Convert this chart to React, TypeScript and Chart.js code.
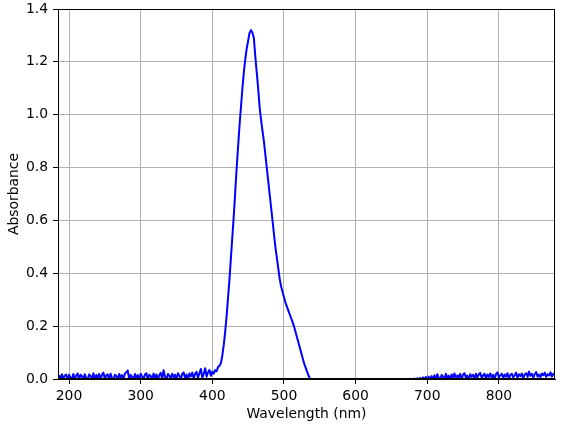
import React, { useEffect, useRef } from "react";
import { Chart, registerables } from "chart.js";

Chart.register(...registerables);

// ---- Data ----
// UV baseline, 186–408 nm every 2 nm
const uvWl = [
  186, 188, 190, 192, 194, 196, 198, 200, 202, 204, 206, 208, 210, 212, 214, 216,
  218, 220, 222, 224, 226, 228, 230, 232, 234, 236, 238, 240, 242, 244, 246, 248,
  250, 252, 254, 256, 258, 260, 262, 264, 266, 268, 270, 272, 274, 276, 278, 280,
  282, 284, 286, 288, 290, 292, 294, 296, 298, 300, 302, 304, 306, 308, 310, 312,
  314, 316, 318, 320, 322, 324, 326, 328, 330, 332, 334, 336, 338, 340, 342, 344,
  346, 348, 350, 352, 354, 356, 358, 360, 362, 364, 366, 368, 370, 372, 374, 376,
  378, 380, 382, 384, 386, 388, 390, 392, 394, 396, 398, 400, 402, 404, 406, 408,
];
const uvAbs = [
  0.015, -0.003, 0.018, 0.002, 0.012, 0.017, -0.004, 0.016, 0.006, -0.002, 0.019, 0.001, 0.013, 0.021, -0.003, 0.016,
  0.011, -0.002, 0.018, 0.004, -0.004, 0.017, 0.012, -0.001, 0.022, -0.003, 0.015, 0.005, 0.019, -0.002, 0.016, 0.024,
  -0.001, 0.014, 0.018, -0.003, 0.02, 0.003, -0.002, 0.016, 0.011, -0.004, 0.019, 0.006, 0.015, -0.001, 0.021, 0.026,
  0.032, -0.002, 0.016, 0.008, -0.003, 0.019, 0.004, 0.015, -0.002, 0.02, 0.01, -0.001, 0.017, 0.022, -0.003, 0.016,
  0.012, -0.002, 0.021, 0.004, 0.017, -0.003, 0.015, 0.023, -0.001, 0.033, 0.008, -0.002, 0.019, 0.013, 0.0, 0.02,
  0.007, 0.016, -0.002, 0.022, 0.012, -0.001, 0.019, 0.025, 0.003, 0.017, -0.002, 0.021, 0.01, 0.024, 0.001, 0.02,
  0.027, 0.005, 0.022, 0.038, 0.004, 0.019, 0.041, 0.009, 0.025, 0.034, 0.012, 0.028, 0.02, 0.034, 0.03, 0.045,
];

// Main absorption band
const peakWl = [
  410, 412, 414, 416, 418, 420, 422, 424, 426, 428, 430, 432, 434, 436, 438, 440, 442, 444, 446, 448,
  450, 452, 454, 456, 458, 460, 462, 464, 466, 468, 470, 472, 474, 476, 478, 480, 482, 484, 486, 488,
  490, 492, 494, 496, 498, 500, 502, 504, 506, 508, 510, 512, 514, 516, 518, 520, 522, 524, 526, 528,
  530, 532, 534, 536, 538,
];
const peakAbs = [
  0.05, 0.06, 0.09, 0.13, 0.18, 0.24, 0.31, 0.38, 0.46, 0.54, 0.62, 0.71, 0.8, 0.88, 0.96, 1.03, 1.1, 1.16, 1.21, 1.25,
  1.28, 1.31, 1.32, 1.31, 1.29, 1.22, 1.16, 1.1, 1.03, 0.98, 0.94, 0.9, 0.85, 0.8, 0.75, 0.7, 0.65, 0.6, 0.55, 0.5,
  0.46, 0.42, 0.38, 0.35, 0.33, 0.31, 0.29, 0.275, 0.26, 0.245, 0.23, 0.215, 0.2, 0.18, 0.16, 0.14, 0.12, 0.1, 0.08, 0.06,
  0.045, 0.03, 0.015, 0.003, -0.01,
];

// Below-zero stretch (hidden under the axis)
const gapWl = [545, 560, 580, 600, 620, 640, 660, 672];
const gapAbs = [-0.02, -0.03, -0.03, -0.035, -0.03, -0.025, -0.02, -0.015];

// Visible/NIR baseline, 678–878 nm every 2 nm
const visWl = [
  678, 680, 682, 684, 686, 688, 690, 692, 694, 696, 698, 700, 702, 704, 706, 708,
  710, 712, 714, 716, 718, 720, 722, 724, 726, 728, 730, 732, 734, 736, 738, 740,
  742, 744, 746, 748, 750, 752, 754, 756, 758, 760, 762, 764, 766, 768, 770, 772,
  774, 776, 778, 780, 782, 784, 786, 788, 790, 792, 794, 796, 798, 800, 802, 804,
  806, 808, 810, 812, 814, 816, 818, 820, 822, 824, 826, 828, 830, 832, 834, 836,
  838, 840, 842, 844, 846, 848, 850, 852, 854, 856, 858, 860, 862, 864, 866, 868,
  870, 872, 874, 876, 878,
];
const visAbs = [
  -0.01, -0.005, 0.002, -0.006, 0.003, -0.004, 0.004, -0.003, 0.006, -0.003, 0.008, -0.004, 0.009, -0.002, 0.011, -0.002,
  0.014, 0.0, 0.018, 0.005, -0.002, 0.015, 0.009, -0.001, 0.02, 0.002, 0.013, -0.002, 0.017, 0.007, 0.021, 0.001,
  0.014, 0.006, 0.019, -0.001, 0.016, 0.022, 0.005, 0.013, -0.001, 0.018, 0.009, 0.016, 0.0, 0.02, 0.006, 0.017,
  0.023, 0.004, 0.014, 0.02, 0.0, 0.017, 0.008, 0.021, 0.005, 0.016, -0.001, 0.019, 0.025, 0.006, 0.014, 0.02,
  0.004, 0.017, 0.009, 0.022, 0.001, 0.016, 0.02, 0.006, 0.014, 0.024, 0.005, 0.018, 0.011, 0.021, 0.003, 0.017,
  0.022, 0.008, 0.028, 0.012, 0.02, 0.005, 0.018, 0.026, 0.009, 0.017, 0.006, 0.021, 0.014, 0.024, 0.008, 0.018,
  0.013, 0.025, 0.009, 0.02, 0.016,
];

const xTicks = [200, 300, 400, 500, 600, 700, 800];
const yTicks = [0, 0.2, 0.4, 0.6, 0.8, 1.0, 1.2, 1.4];
const xMin = 184.6;
const xMax = 878.3;
const yMin = 0;
const yMax = 1.4;

const FONT = { family: "'DejaVu Sans', sans-serif", size: 13.9 };

const framePlugin = {
  id: "frame",
  afterDatasetsDraw(chart: any) {
    const { ctx, chartArea } = chart;
    const { left, right, top, bottom } = chartArea;
    ctx.save();
    ctx.strokeStyle = "#000";
    ctx.lineWidth = 1;
    ctx.strokeRect(Math.round(left) + 0.5, Math.round(top) + 0.5, Math.round(right - left) - 1, Math.round(bottom - top) - 1);
    ctx.restore();
  },
};

export default function App() {
  const ref = useRef<HTMLCanvasElement | null>(null);

  useEffect(() => {
    if (!ref.current) return;
    const wl = [...uvWl, ...peakWl, ...gapWl, ...visWl];
    const ab = [...uvAbs, ...peakAbs, ...gapAbs, ...visAbs];
    const points = wl.map((x, i) => ({ x, y: ab[i] }));

    const chart = new Chart(ref.current, {
      type: "line",
      data: {
        datasets: [
          {
            data: points,
            borderColor: "#0000ff",
            borderWidth: 2,
            borderJoinStyle: "round",
            pointRadius: 0,
            tension: 0,
            fill: false,
            clip: 0,
          } as any,
        ],
      },
      options: {
        responsive: false,
        animation: false,
        layout: { padding: { top: 9, right: 9, left: 0, bottom: 0 } },
        plugins: { legend: { display: false }, tooltip: { enabled: false } },
        scales: {
          x: {
            type: "linear",
            min: xMin,
            max: xMax,
            afterBuildTicks: (s: any) => {
              s.ticks = xTicks.map((v) => ({ value: v }));
            },
            afterFit: (s: any) => {
              s.height = 46;
              s.paddingLeft = 0;
              s.paddingRight = 0;
            },
            ticks: {
              color: "#000",
              font: FONT,
              padding: 4,
              autoSkip: false,
              maxRotation: 0,
              callback: (v: any) => String(v),
            },
            grid: { color: "#b0b0b0", lineWidth: 1, tickColor: "#000", tickLength: 5, drawTicks: true },
            border: { color: "#000", width: 1 },
            title: { display: true, text: "Wavelength (nm)", color: "#000", font: FONT, padding: { top: 0, bottom: 2 } },
          },
          y: {
            type: "linear",
            min: yMin,
            max: yMax,
            afterBuildTicks: (s: any) => {
              s.ticks = yTicks.map((v) => ({ value: v }));
            },
            afterFit: (s: any) => {
              s.width = 58;
              s.paddingTop = 0;
              s.paddingBottom = 0;
            },
            ticks: {
              color: "#000",
              font: FONT,
              padding: 5,
              autoSkip: false,
              callback: (v: any) => Number(v).toFixed(1),
            },
            grid: { color: "#b0b0b0", lineWidth: 1, tickColor: "#000", tickLength: 5, drawTicks: true },
            border: { color: "#000", width: 1 },
            title: { display: true, text: "Absorbance", color: "#000", font: FONT, padding: { top: 6, bottom: 0 } },
          },
        },
      } as any,
      plugins: [framePlugin],
    });
    return () => chart.destroy();
  }, []);

  return (
    <div style={{ position: "fixed", left: 0, top: 0, width: 564, height: 425, background: "#fff" }}>
      <canvas ref={ref} width={564} height={425} style={{ width: 564, height: 425, display: "block" }} />
    </div>
  );
}
